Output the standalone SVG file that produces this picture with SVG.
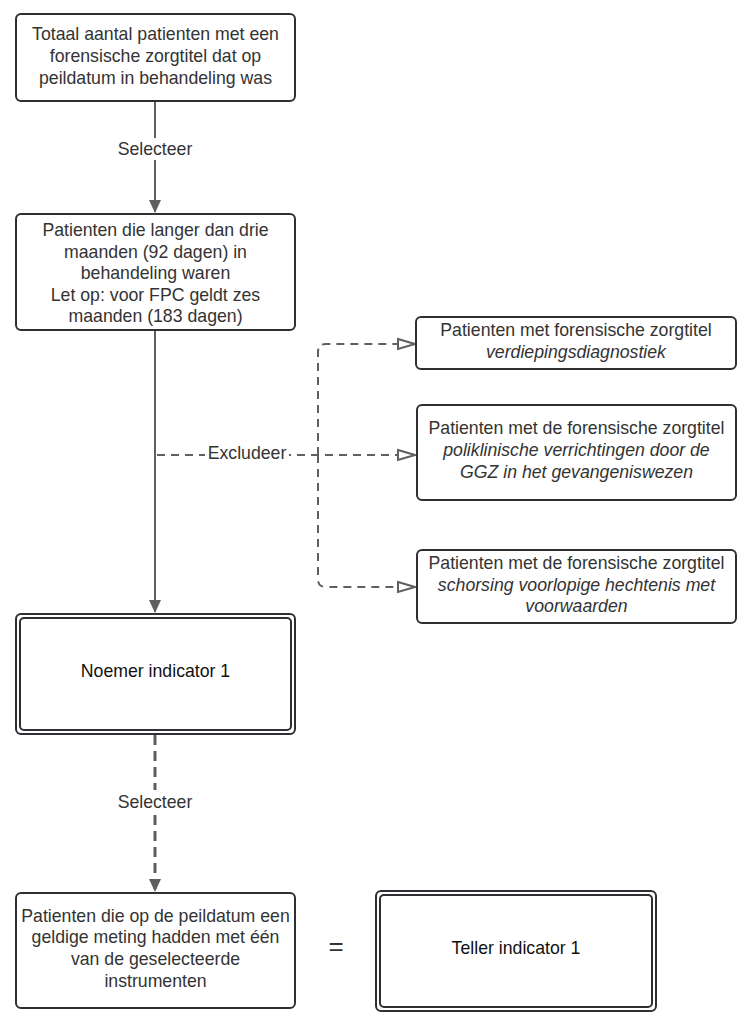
<svg xmlns="http://www.w3.org/2000/svg" width="753" height="1026" viewBox="0 0 753 1026">
<style>
.box{fill:#fff;stroke:#2e3033;stroke-width:2}
.t{font-family:"Liberation Sans",Arial,sans-serif;font-size:17.7px;fill:#333;text-anchor:middle}
.tb{font-family:"Liberation Sans",Arial,sans-serif;font-size:17.7px;fill:#111;text-anchor:middle}
.i{font-style:italic}
.c{fill:none;stroke:#5f5f5f;stroke-width:2}
.d{stroke-dasharray:8 6}
.lbl{font-family:"Liberation Sans",Arial,sans-serif;font-size:17.7px;fill:#333;text-anchor:middle}
</style>
<defs>
<marker id="fa" markerWidth="14" markerHeight="14" refX="12" refY="7" orient="auto" markerUnits="userSpaceOnUse">
<path d="M0,1 L13,7 L0,13 Z" fill="#5f5f5f"/>
</marker>
<marker id="oa" markerWidth="20" markerHeight="14" refX="18" refY="7" orient="auto" markerUnits="userSpaceOnUse">
<path d="M1,2 L18,7 L1,12 Z" fill="#fff" stroke="#5f5f5f" stroke-width="2"/>
</marker>
</defs>
<rect width="753" height="1026" fill="#fff"/>
<g id="connectors">
<line class="c" x1="155" y1="101" x2="155" y2="212" marker-end="url(#fa)"/>
<rect x="110" y="138" width="90" height="22" fill="#fff"/>
<text class="lbl" x="155" y="155">Selecteer</text>
<line class="c" x1="155" y1="330" x2="155" y2="612" marker-end="url(#fa)"/>
<line class="c d" x1="157" y1="455" x2="415" y2="455" marker-end="url(#oa)"/>
<rect x="205" y="443" width="84" height="22" fill="#fff"/>
<text class="lbl" x="247" y="459">Excludeer</text>
<path class="c d" d="M318,455 L318,352 Q318,344 326,344 L415,344" marker-end="url(#oa)"/>
<path class="c d" d="M318,455 L318,579 Q318,587 326,587 L415,587" marker-end="url(#oa)"/>
<line class="c" x1="155" y1="735" x2="155" y2="891" style="stroke-width:3;stroke-dasharray:10 6" marker-end="url(#fa)"/>
<rect x="110" y="790" width="90" height="24" fill="#fff"/>
<text class="lbl" x="155" y="808">Selecteer</text>
</g>
<g id="node1">
<rect class="box" x="16" y="14" width="279" height="87" rx="5"/>
<text class="t" x="155.5" y="40">Totaal aantal patienten met een</text>
<text class="t" x="155.5" y="62">forensische zorgtitel dat op</text>
<text class="t" x="155.5" y="84">peildatum in behandeling was</text>
</g>
<g id="node2">
<rect class="box" x="16" y="214" width="279" height="116" rx="5"/>
<text class="t" x="155.5" y="236">Patienten die langer dan drie</text>
<text class="t" x="155.5" y="258">maanden (92 dagen) in</text>
<text class="t" x="155.5" y="279">behandeling waren</text>
<text class="t" x="155.5" y="301">Let op: voor FPC geldt zes</text>
<text class="t" x="155.5" y="322">maanden (183 dagen)</text>
</g>
<g id="nodeA">
<rect class="box" x="416" y="317" width="320" height="52" rx="5"/>
<text class="t" x="576" y="336">Patienten met forensische zorgtitel</text>
<text class="t i" x="576" y="358">verdiepingsdiagnostiek</text>
</g>
<g id="nodeB">
<rect class="box" x="417" y="405" width="319" height="95" rx="5"/>
<text class="t" x="576.5" y="434">Patienten met de forensische zorgtitel</text>
<text class="t i" x="576.5" y="456">poliklinische verrichtingen door de</text>
<text class="t i" x="576.5" y="478">GGZ in het gevangeniswezen</text>
</g>
<g id="nodeC">
<rect class="box" x="417" y="550" width="319" height="73" rx="5"/>
<text class="t" x="576.5" y="569">Patienten met de forensische zorgtitel</text>
<text class="t i" x="576.5" y="591">schorsing voorlopige hechtenis met</text>
<text class="t i" x="576.5" y="612">voorwaarden</text>
</g>
<g id="noemer">
<rect class="box" x="16" y="614" width="279" height="120" rx="5"/>
<rect class="box" x="20" y="618" width="271" height="112" rx="4"/>
<text class="tb" x="155.5" y="677">Noemer indicator 1</text>
</g>
<g id="node5">
<rect class="box" x="16" y="893" width="279" height="115" rx="5"/>
<text class="t" x="155.5" y="922">Patienten die op de peildatum een</text>
<text class="t" x="155.5" y="943">geldige meting hadden met één</text>
<text class="t" x="155.5" y="965">van de geselecteerde</text>
<text class="t" x="155.5" y="987">instrumenten</text>
</g>
<text class="t" x="336" y="955" style="font-size:26px">=</text>
<g id="teller">
<rect class="box" x="376" y="891" width="280" height="120" rx="5"/>
<rect class="box" x="380" y="895" width="272" height="112" rx="4"/>
<text class="tb" x="516" y="954">Teller indicator 1</text>
</g>
</svg>
